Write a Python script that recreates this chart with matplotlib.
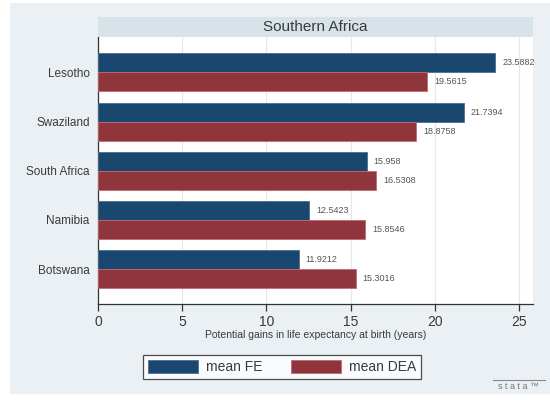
import matplotlib
matplotlib.use("Agg")
import matplotlib.pyplot as plt
from matplotlib.patches import Rectangle
import numpy as np

plt.rcParams['font.family'] = ['Liberation Sans', 'DejaVu Sans']

countries = ["Lesotho", "Swaziland", "South Africa", "Namibia", "Botswana"]
mean_fe = [23.5882, 21.7394, 15.958, 12.5423, 11.9212]
mean_dea = [19.5615, 18.8758, 16.5308, 15.8546, 15.3016]
series_names = ["mean FE", "mean DEA"]
x_ticks = [0, 5, 10, 15, 20, 25]
title = "Southern Africa"
x_label = "Potential gains in life expectancy at birth (years)"

navy = "#1a476f"
maroon = "#90353b"
outer_bg = "#eaf0f3"
strip_bg = "#d8e3e9"
text_col = "#3a3a3a"

fig = plt.figure(figsize=(5.5, 4.0), dpi=100)
fig.patch.set_facecolor("white")
# graph region background
fig.add_artist(Rectangle((10 / 550, 1 - 394 / 400), 540 / 550, 391 / 400,
                         transform=fig.transFigure, facecolor=outer_bg,
                         edgecolor="none", zorder=0))

ax = fig.add_axes([98 / 550, 1 - 304 / 400, 435 / 550, 267 / 400])
ax.set_facecolor("white")

n = len(countries)
centers = np.arange(n)[::-1]
h = 0.386
ax.barh(centers + h / 2, mean_fe, height=h, color=navy,
        edgecolor="#4a6f92", linewidth=0.6, label=series_names[0], zorder=3)
ax.barh(centers - h / 2, mean_dea, height=h, color=maroon,
        edgecolor="#c06a70", linewidth=0.6, label=series_names[1], zorder=3)

for c, v in zip(centers, mean_fe):
    ax.annotate(f"{v:g}", (v, c + h / 2), xytext=(5, 0), textcoords="offset points",
                va="center", ha="left", fontsize=6.5, color="#555555")
for c, v in zip(centers, mean_dea):
    ax.annotate(f"{v:g}", (v, c - h / 2), xytext=(5, 0), textcoords="offset points",
                va="center", ha="left", fontsize=6.5, color="#555555")

ax.set_xlim(0, 25.83)
ax.set_ylim(-0.71, 4.72)
ax.set_xticks(x_ticks)
ax.set_xticklabels([str(t) for t in x_ticks], fontsize=10, color=text_col)
ax.set_yticks(centers)
ax.set_yticklabels(countries, fontsize=8.5, color=text_col)
ax.tick_params(axis="y", length=0, pad=6)
ax.tick_params(axis="x", length=5, width=0.9, color="#333333", pad=3)
ax.grid(axis="x", color="#e3e8eb", linewidth=0.9, zorder=0)
ax.set_axisbelow(True)
for s in ["top", "right"]:
    ax.spines[s].set_visible(False)
for s in ["left", "bottom"]:
    ax.spines[s].set_color("#333333")
    ax.spines[s].set_linewidth(0.9)

ax.set_xlabel(x_label, fontsize=7.5, color=text_col, labelpad=1)

# title strip
fig.add_artist(Rectangle((98 / 550, 1 - 37 / 400), 435 / 550, 20 / 400,
                         transform=fig.transFigure, facecolor=strip_bg,
                         edgecolor="none", zorder=1))
fig.text((98 + 533) / 2 / 550, 1 - 27 / 400, title, ha="center", va="center",
         fontsize=11, color=text_col)

leg = fig.legend(loc="center", bbox_to_anchor=(282 / 550, 1 - 367 / 400),
                 ncol=2, fontsize=10, frameon=True, fancybox=False,
                 edgecolor="#222222", handlelength=3.6, handleheight=1.1,
                 columnspacing=2.0, handletextpad=0.6, borderpad=0.35)
leg.get_frame().set_linewidth(0.9)
for t in leg.get_texts():
    t.set_color(text_col)

# stata mark
fig.add_artist(plt.Line2D([493 / 550, 545 / 550], [1 - 380 / 400, 1 - 380 / 400],
                          transform=fig.transFigure, color="#888888", linewidth=0.8))
fig.text(519 / 550, 1 - 386.5 / 400, "s t a t a \u2122", ha="center", va="center",
         fontsize=6.5, color="#777777")

fig.savefig("out.png", dpi=100, facecolor=fig.get_facecolor())
